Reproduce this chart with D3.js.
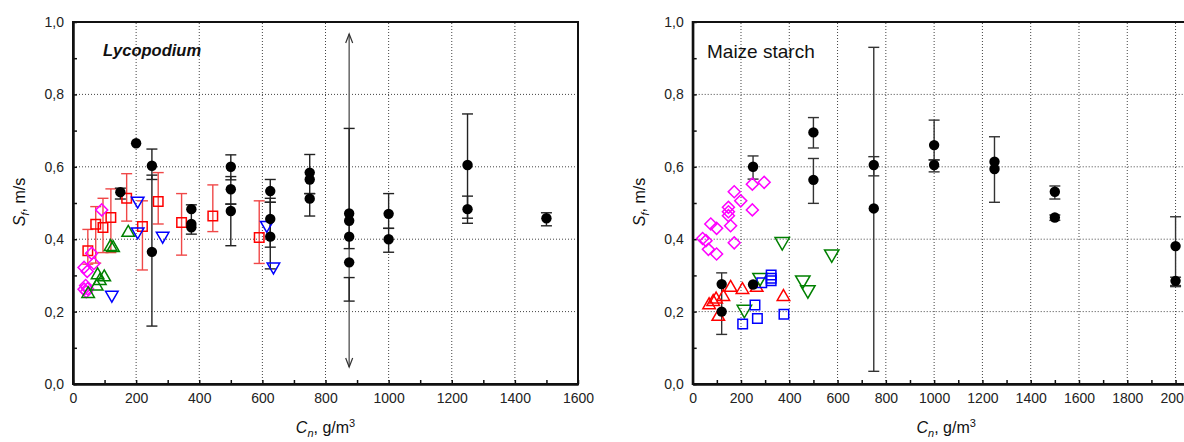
<!DOCTYPE html>
<html>
<head>
<meta charset="utf-8">
<script src="https://cdn.jsdelivr.net/npm/d3@7"></script>
<style>
  body { margin: 0; background: #fff; }
  svg { display: block; font-family: "Liberation Sans", Arial, sans-serif; }
</style>
</head>
<body>
<svg id="chart" width="1184" height="442"></svg>
<script>
// ---- data: [x, y, errLow, errHigh] ----
var lycoBlack = [
  [150, 0.530, 0.511, 0.541], [200, 0.665], [250, 0.603, 0.565, 0.649], [250, 0.365, 0.160, 0.577],
  [375, 0.483, 0.414, 0.495], [375, 0.442], [375, 0.433],
  [500, 0.600, 0.564, 0.633], [500, 0.538, 0.497, 0.573], [500, 0.478, 0.382, 0.497],
  [625, 0.533, 0.502, 0.565], [625, 0.456, 0.378, 0.513], [625, 0.407, 0.318, 0.502],
  [750, 0.584, 0.526, 0.634], [750, 0.565], [750, 0.512, 0.464, 0.526],
  [875, 0.471], [875, 0.451, 0.374, 0.706], [875, 0.407], [875, 0.336, 0.229, 0.294],
  [1000, 0.470, 0.430, 0.526], [1000, 0.400, 0.364, 0.430],
  [1250, 0.605, 0.458, 0.746], [1250, 0.483, 0.444, 0.519],
  [1500, 0.458, 0.437, 0.473]
];
var lycoArrow = [875, 0.047, 0.967];
var lycoRed = [
  [47, 0.368, 0.331, 0.427], [72, 0.441, 0.334, 0.490], [95, 0.432, 0.363, 0.513],
  [120, 0.460, 0.363, 0.539], [170, 0.513, 0.450, 0.581], [220, 0.435, 0.315, 0.506],
  [270, 0.504, 0.442, 0.584], [344, 0.446, 0.356, 0.526], [443, 0.464, 0.421, 0.550],
  [590, 0.405, 0.333, 0.506]
];
var lycoMagenta = [[91, 0.481], [59, 0.361], [66, 0.333], [35, 0.322], [45, 0.311],
  [40, 0.272], [46, 0.263], [42, 0.255], [35, 0.262]];
var lycoGreen = [[48, 0.249], [75, 0.270], [85, 0.285], [78, 0.301], [99, 0.295],
  [119, 0.379], [127, 0.376], [175, 0.418]];
var lycoBlue = [[205, 0.506], [205, 0.421], [284, 0.409], [123, 0.246], [614, 0.439], [635, 0.324]];

var maizeBlack = [
  [120, 0.276, 0.137, 0.307], [120, 0.200], [250, 0.600, 0.566, 0.630], [250, 0.275],
  [500, 0.695, 0.652, 0.736], [500, 0.564, 0.499, 0.623],
  [750, 0.605, 0.575, 0.628], [750, 0.485, 0.035, 0.930],
  [1000, 0.660, 0.619, 0.729], [1000, 0.605, 0.586, 0.619],
  [1250, 0.614, 0.502, 0.683], [1250, 0.594],
  [1500, 0.531, 0.511, 0.547], [1500, 0.460, 0.452, 0.467],
  [2000, 0.381, 0.269, 0.462], [2000, 0.285, 0.272, 0.295]
];
var maizeMagenta = [[296, 0.557], [247, 0.552], [172, 0.531], [199, 0.506], [247, 0.481],
  [148, 0.488], [148, 0.476], [148, 0.465], [157, 0.437], [75, 0.442], [99, 0.430],
  [172, 0.390], [41, 0.402], [55, 0.396], [65, 0.372], [99, 0.359]];
var maizeRed = [[68, 0.218], [85, 0.227], [97, 0.234], [127, 0.241], [106, 0.186],
  [157, 0.266], [206, 0.260], [265, 0.266], [376, 0.241]];
var maizeGreen = [[371, 0.393], [576, 0.359], [456, 0.287], [477, 0.260], [279, 0.294], [214, 0.206]];
var maizeBlue = [[325, 0.301], [325, 0.292], [325, 0.285], [286, 0.280], [258, 0.218],
  [268, 0.181], [207, 0.166], [378, 0.193]];

var yTicks = [0, 0.2, 0.4, 0.6, 0.8, 1.0];

var svg = d3.select("#chart");
var commaFmt = function(d){ return d3.format(".1f")(d).replace(".", ","); };

function drawPanel(p) {
  var x = d3.scaleLinear().domain([0, p.xmax]).range([p.left, p.left + p.width]);
  var y = d3.scaleLinear().domain([0, 1]).range([384, 22]);
  var g = svg.append("g");

  // dotted grid on major ticks
  g.selectAll(".gx").data(d3.range(200, p.xmax, 200)).enter().append("line")
    .attr("x1", d => x(d)).attr("x2", d => x(d)).attr("y1", y(0)).attr("y2", y(1))
    .attr("stroke", "#444").attr("stroke-width", 1).attr("stroke-dasharray", "1,2");
  g.selectAll(".gy").data([0.2, 0.4, 0.6, 0.8]).enter().append("line")
    .attr("x1", x(0)).attr("x2", x(p.xmax)).attr("y1", d => y(d)).attr("y2", d => y(d))
    .attr("stroke", "#444").attr("stroke-width", 1).attr("stroke-dasharray", "1,2");

  // frame
  g.append("rect").attr("x", x(0)).attr("y", y(1)).attr("width", p.width).attr("height", y(0) - y(1))
    .attr("fill", "none").attr("stroke", "#111").attr("stroke-width", 2);

  // axes (ticks point inward)
  var xAx = g.append("g").attr("transform", "translate(0," + y(0) + ")")
    .call(d3.axisBottom(x).tickValues(d3.range(0, p.xmax + 1, 200)).tickSize(-4).tickSizeOuter(0)
      .tickPadding(9).tickFormat(d3.format("d")));
  var xMin = g.append("g").attr("transform", "translate(0," + y(0) + ")")
    .call(d3.axisBottom(x).tickValues(d3.range(100, p.xmax + 1, 200)).tickSize(-4).tickSizeOuter(0).tickFormat(""));
  var yAx = g.append("g").attr("transform", "translate(" + x(0) + ",0)")
    .call(d3.axisLeft(y).tickValues(yTicks).tickSize(-4).tickSizeOuter(0).tickPadding(9).tickFormat(commaFmt));
  var yMin = g.append("g").attr("transform", "translate(" + x(0) + ",0)")
    .call(d3.axisLeft(y).tickValues([0.1, 0.3, 0.5, 0.7, 0.9]).tickSize(-4).tickSizeOuter(0).tickFormat(""));
  [xAx, xMin, yAx, yMin].forEach(function(a){
    a.select(".domain").attr("stroke", "#111").attr("stroke-width", 2);
    a.selectAll(".tick line").attr("stroke", "#111").attr("stroke-width", 1.5);
    a.selectAll("text").attr("font-size", 14).attr("fill", "#222")
      .attr("font-family", "Liberation Sans, Arial, sans-serif");
  });

  // axis titles
  var xt = g.append("text").attr("x", x(0) + p.width / 2).attr("y", 433)
    .attr("text-anchor", "middle").attr("font-size", 16).attr("fill", "#111");
  xt.append("tspan").attr("font-style", "italic").text("C");
  xt.append("tspan").attr("font-style", "italic").attr("font-size", 11).attr("dy", 4).text("n");
  xt.append("tspan").attr("dy", -4).text(", g/m");
  xt.append("tspan").attr("font-size", 11).attr("dy", -6).text("3");

  var yt = g.append("text").attr("transform", "translate(" + (x(0) - 48) + ",202) rotate(-90)")
    .attr("text-anchor", "middle").attr("font-size", 16).attr("fill", "#111");
  yt.append("tspan").attr("font-style", "italic").text("S");
  yt.append("tspan").attr("font-style", "italic").attr("font-size", 11).attr("dy", 4).text("f");
  yt.append("tspan").attr("dy", -4).text(", m/s");

  // panel label
  g.append("text").attr("x", p.labelX).attr("y", p.labelY)
    .attr("font-size", p.labelSize).attr("font-weight", p.labelWeight).attr("font-style", p.labelStyle)
    .attr("fill", "#111").text(p.label);

  return { g: g, x: x, y: y };
}

function errorBars(P, data, color, width) {
  var e = data.filter(d => d[2] != null);
  P.g.selectAll(null).data(e).enter().append("line")
    .attr("x1", d => P.x(d[0])).attr("x2", d => P.x(d[0]))
    .attr("y1", d => P.y(d[2])).attr("y2", d => P.y(d[3]))
    .attr("stroke", color).attr("stroke-width", width);
  [2, 3].forEach(function(k){
    P.g.selectAll(null).data(e).enter().append("line")
      .attr("x1", d => P.x(d[0]) - 5.5).attr("x2", d => P.x(d[0]) + 5.5)
      .attr("y1", d => P.y(d[k])).attr("y2", d => P.y(d[k]))
      .attr("stroke", color).attr("stroke-width", 1.4);
  });
}

function openMarks(P, data, color, type, size, rot) {
  var sym = d3.symbol().type(type).size(size);
  P.g.selectAll(null).data(data).enter().append("path")
    .attr("d", sym)
    .attr("transform", d => "translate(" + P.x(d[0]) + "," + P.y(d[1]) + ") rotate(" + rot + ")")
    .attr("fill", "none").attr("stroke", color).attr("stroke-width", 1.5);
}

function blackDots(P, data) {
  P.g.selectAll(null).data(data).enter().append("circle")
    .attr("cx", d => P.x(d[0])).attr("cy", d => P.y(d[1])).attr("r", 5.2).attr("fill", "#000");
}

// ---- left panel: Lycopodium ----
var L = drawPanel({ left: 73, width: 505, xmax: 1600, label: "Lycopodium", labelX: 103, labelY: 56,
  labelSize: 16.5, labelWeight: "bold", labelStyle: "italic" });

// double-headed arrow
var ax = L.x(lycoArrow[0]), a0 = L.y(lycoArrow[1]), a1 = L.y(lycoArrow[2]);
L.g.append("line").attr("x1", ax).attr("x2", ax).attr("y1", a0).attr("y2", a1)
  .attr("stroke", "#666").attr("stroke-width", 1.5);
L.g.append("path").attr("d", d3.line()([[ax - 3.5, a1 + 9], [ax, a1], [ax + 3.5, a1 + 9]]))
  .attr("fill", "none").attr("stroke", "#333").attr("stroke-width", 1.2);
L.g.append("path").attr("d", d3.line()([[ax - 3.5, a0 - 9], [ax, a0], [ax + 3.5, a0 - 9]]))
  .attr("fill", "none").attr("stroke", "#333").attr("stroke-width", 1.2);

errorBars(L, lycoRed, "#f04848", 1.4);
errorBars(L, lycoBlack, "#222", 1.4);
openMarks(L, lycoRed, "#ff0000", d3.symbolSquare, 90, 0);
openMarks(L, lycoMagenta, "#ff00ff", d3.symbolSquare, 72, 45);
openMarks(L, lycoGreen, "#008000", d3.symbolTriangle, 68, 0);
openMarks(L, lycoBlue, "#0000ff", d3.symbolTriangle, 68, 180);
blackDots(L, lycoBlack);

// ---- right panel: Maize starch ----
var R = drawPanel({ left: 692.7, width: 507, xmax: 2100, label: "Maize starch", labelX: 707, labelY: 58,
  labelSize: 19, labelWeight: "normal", labelStyle: "normal" });

errorBars(R, maizeBlack, "#333", 1.4);
openMarks(R, maizeMagenta, "#ff00ff", d3.symbolSquare, 72, 45);
openMarks(R, maizeRed, "#ff0000", d3.symbolTriangle, 68, 0);
openMarks(R, maizeGreen, "#008000", d3.symbolTriangle, 90, 180);
openMarks(R, maizeBlue, "#0000ff", d3.symbolSquare, 90, 0);
blackDots(R, maizeBlack);
</script>
</body>
</html>
